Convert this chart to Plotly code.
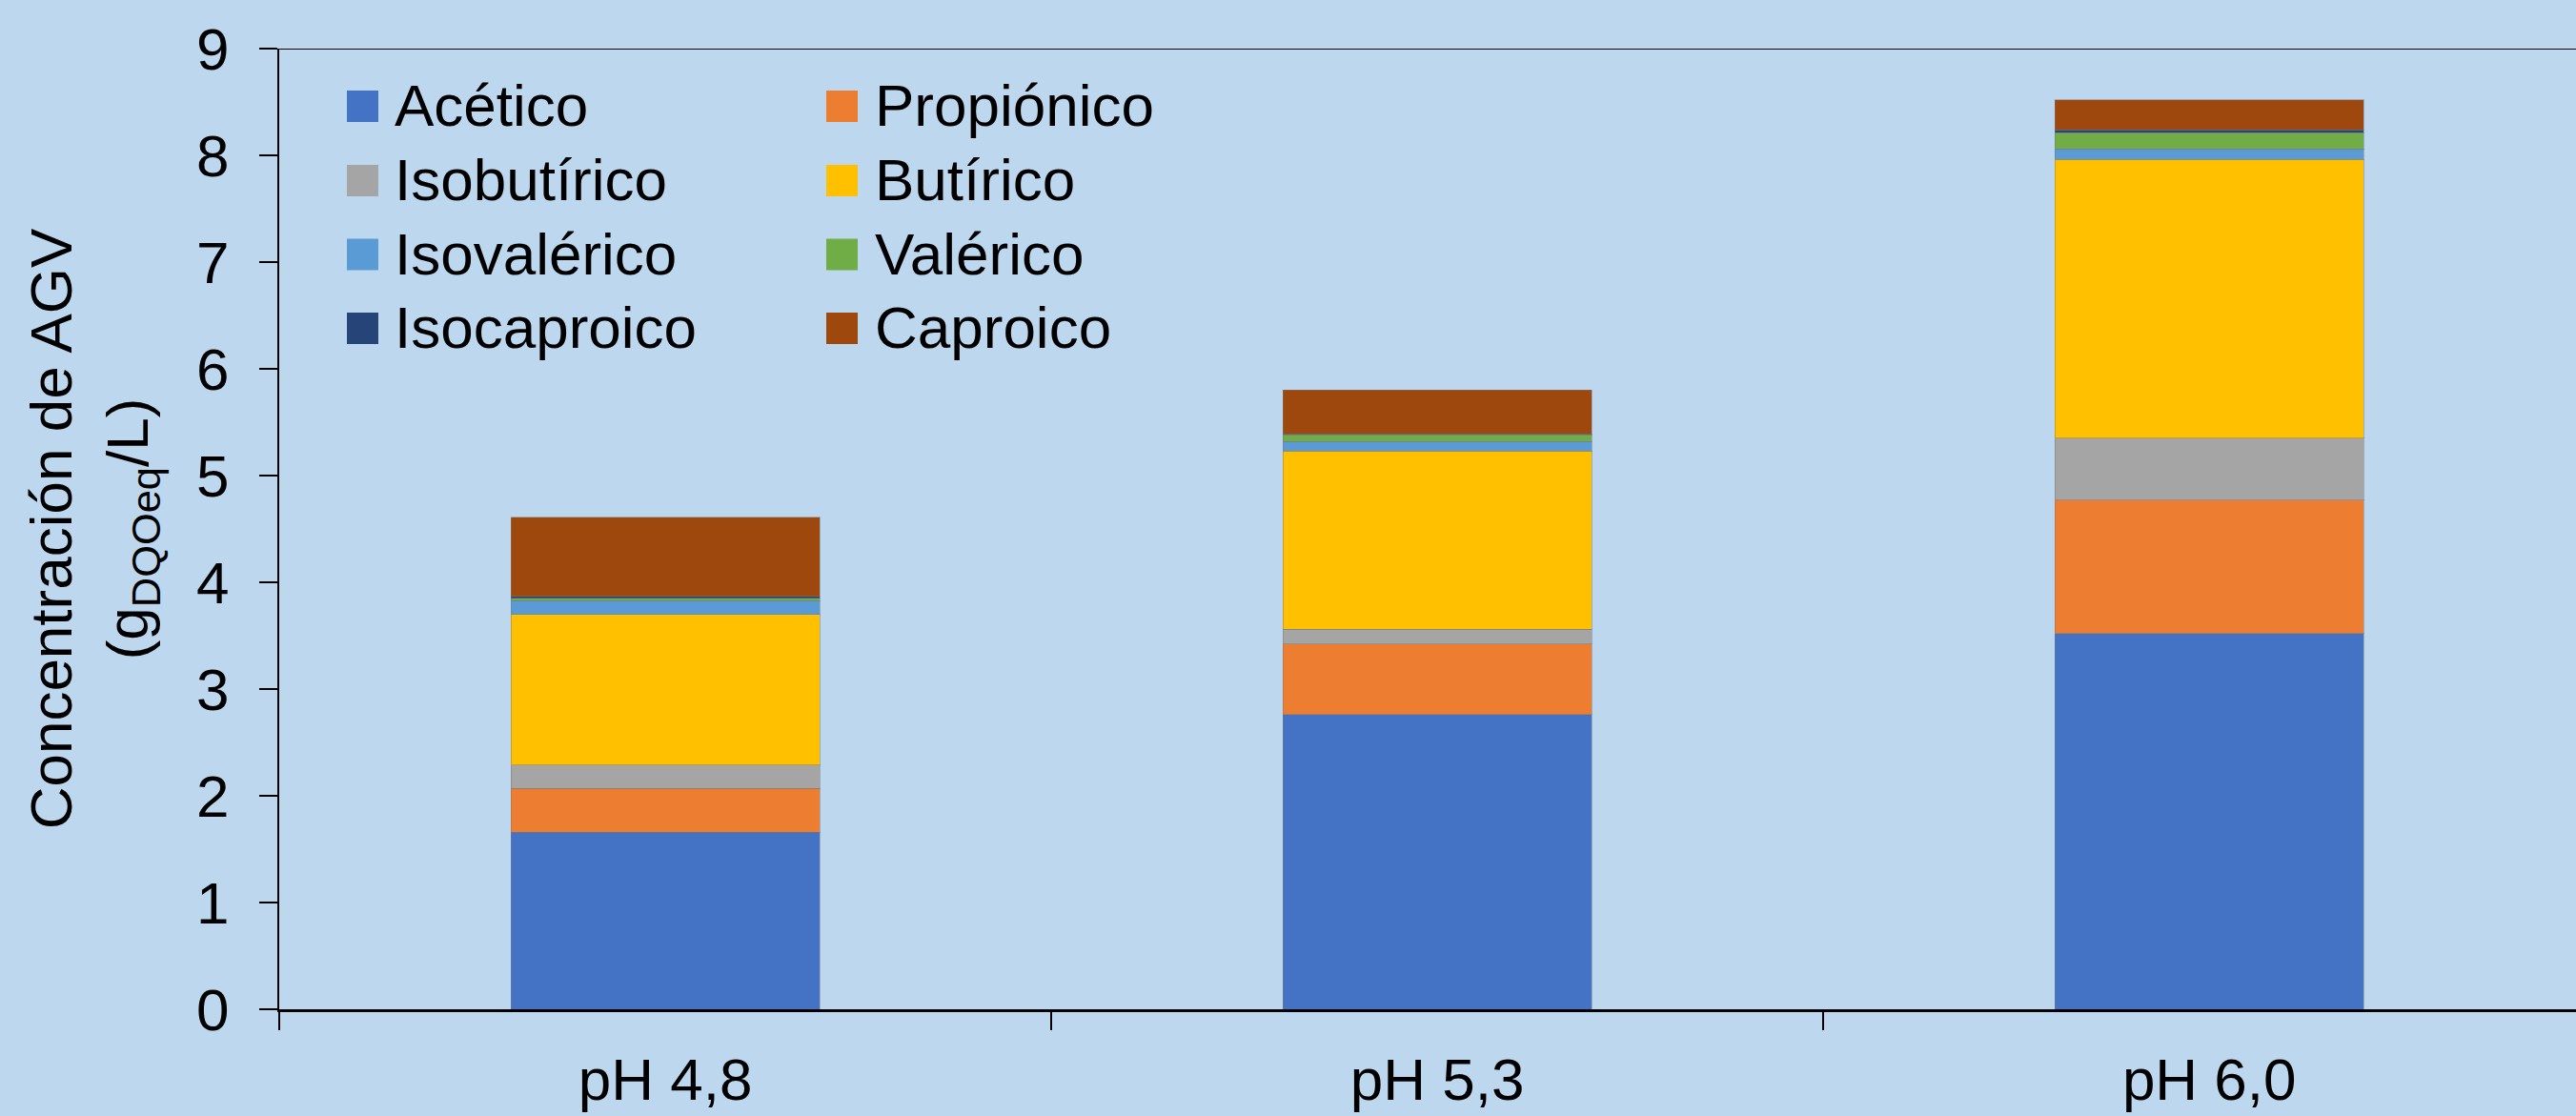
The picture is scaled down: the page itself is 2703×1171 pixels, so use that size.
import plotly.graph_objects as go

# Condiciones de pH ensayadas
categorias = ["pH 4,8", "pH 5,3", "pH 6,0"]

# Concentración de cada ácido graso volátil (g DQOeq/L)
acetico = [1.66, 2.76, 3.52]
propionico = [0.41, 0.66, 1.25]
isobutirico = [0.22, 0.14, 0.58]
butirico = [1.41, 1.67, 2.61]
isovalerico = [0.13, 0.09, 0.10]
valerico = [0.02, 0.06, 0.15]
isocaproico = [0.02, 0.01, 0.03]
caproico = [0.74, 0.41, 0.28]

nombres = ["Acético", "Propiónico", "Isobutírico", "Butírico",
           "Isovalérico", "Valérico", "Isocaproico", "Caproico"]
series = [acetico, propionico, isobutirico, butirico,
          isovalerico, valerico, isocaproico, caproico]
colores = ["#4472C4", "#ED7D31", "#A5A5A5", "#FFC000",
           "#5B9BD5", "#70AD47", "#264478", "#9E480E"]

y_ticks = list(range(0, 10))

W, H = 2703, 1171
ML, MR, MT, MB = 293, 0, 51, 112
FONT = "Liberation Sans, Arial, sans-serif"
FS = 62
BG = "#BDD7EE"

fig = go.Figure()
for nombre, valores, color in zip(nombres, series, colores):
    fig.add_trace(go.Bar(
        x=categorias, y=valores, name=nombre,
        marker=dict(color=color, line=dict(color="rgba(120,120,120,0.45)", width=1)),
        width=0.4, showlegend=False,
    ))

# Helpers: pixel position -> paper coordinates of the plot area
pw, ph = W - ML - MR, H - MT - MB


def px_x(px):
    return (px - ML) / pw


def px_y(py):
    return (H - MB - py) / ph


# Two-column legend drawn with shapes and annotations
shapes = []
annotations = []
col_sw = [364, 867]
col_tx = [412, 916]
row_y = [111.5, 189.5, 267, 344.5]
SW = 33
for i, (nombre, color) in enumerate(zip(nombres, colores)):
    c, r = i % 2, i // 2
    yc = row_y[r]
    shapes.append(dict(type="rect", xref="paper", yref="paper",
                       x0=px_x(col_sw[c]), x1=px_x(col_sw[c] + SW),
                       y0=px_y(yc + SW / 2), y1=px_y(yc - SW / 2),
                       fillcolor=color, line=dict(width=0)))
    annotations.append(dict(xref="paper", yref="paper", x=px_x(col_tx[c]), y=px_y(yc - 1),
                            xanchor="left", yanchor="middle", text=nombre, showarrow=False,
                            font=dict(family=FONT, size=FS, color="black")))

# Top border line at the axis maximum
shapes.append(dict(type="line", xref="paper", yref="y", x0=0, x1=1, y0=9, y1=9,
                   line=dict(color="black", width=2)))

fig.update_layout(
    width=W, height=H,
    margin=dict(l=ML, r=MR, t=MT, b=MB, pad=0),
    paper_bgcolor=BG, plot_bgcolor=BG,
    barmode="stack",
    font=dict(family=FONT, size=FS, color="black"),
    shapes=shapes, annotations=annotations,
    showlegend=False,
    xaxis=dict(
        type="category", range=[-0.5, 2.475],
        showline=True, linecolor="black", linewidth=3,
        ticks="outside", tickson="boundaries", ticklen=19, tickwidth=1.5, tickcolor="black",
        tickfont=dict(family=FONT, size=FS, color="black"),
        ticklabelstandoff=18,
        showgrid=False, zeroline=False, automargin=False,
    ),
    yaxis=dict(
        range=[0, 9], tickvals=y_ticks,
        showline=True, linecolor="black", linewidth=2,
        ticks="outside", ticklen=19, tickwidth=1.5, tickcolor="black",
        tickfont=dict(family=FONT, size=FS, color="black"),
        ticklabelstandoff=19,
        showgrid=False, zeroline=False, automargin=False,
        title=dict(text="Concentración de AGV<br>(g<sub>DQOeq</sub>/L)",
                   font=dict(family=FONT, size=FS, color="black"), standoff=30),
    ),
)

fig.write_html("out.html")
